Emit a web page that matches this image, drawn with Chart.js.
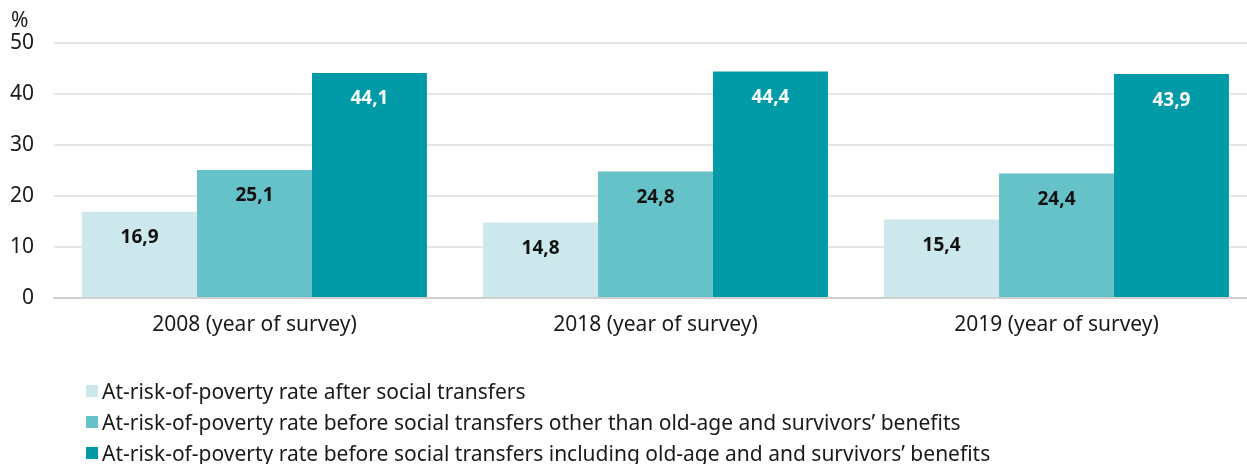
<!DOCTYPE html>
<html>
<head>
<meta charset="utf-8">
<script src="https://cdn.jsdelivr.net/npm/chart.js@4"></script>
<style>
  html, body { margin: 0; padding: 0; background: #fff; overflow: hidden; }
  #wrap { position: relative; width: 1247px; height: 464px; overflow: hidden; font-family: "Noto Sans", sans-serif; }
  #legend { position: absolute; left: 86px; top: 375px; font-size: 21px; color: #1a1a1a; }
  #legend div { display: flex; align-items: center; height: 31px; white-space: nowrap; }
  #legend span.box { display: inline-block; width: 12px; height: 12px; margin-right: 4px; }
</style>
</head>
<body>
<div id="wrap">
  <canvas id="chart" width="1257" height="464"></canvas>
  <div id="legend"></div>
</div>
<script>
// ── data ──
const categories = ['2008 (year of survey)', '2018 (year of survey)', '2019 (year of survey)'];
const seriesNames = [
  'At-risk-of-poverty rate after social transfers',
  'At-risk-of-poverty rate before social transfers other than old-age and survivors\u2019 benefits',
  'At-risk-of-poverty rate before social transfers including old-age and and survivors\u2019 benefits',
];
const afterTransfers = [16.9, 14.8, 15.4];
const beforeOtherThanPensions = [25.1, 24.8, 24.4];
const beforeInclPensions = [44.1, 44.4, 43.9];
const yTicks = [0, 10, 20, 30, 40, 50];
const unitLabel = '%';

const colors = ['#cce8ec', '#66c2c9', '#009ba7'];
const labelColors = ['#111', '#111', '#fff'];
const FONT = '"Noto Sans", sans-serif';

// Value labels inside bars near the top, plus the "%" unit above the axis
const barLabels = {
  id: 'barLabels',
  afterDraw(chart) {
    const ctx = chart.ctx;
    ctx.save();
    ctx.font = `bold 19px ${FONT}`;
    ctx.textAlign = 'center';
    ctx.textBaseline = 'middle';
    chart.data.datasets.forEach((ds, i) => {
      chart.getDatasetMeta(i).data.forEach((bar, j) => {
        ctx.fillStyle = labelColors[i];
        ctx.fillText(ds.data[j].toFixed(1).replace('.', ','), bar.x, bar.y + 26);
      });
    });
    ctx.font = `21px ${FONT}`;
    ctx.textAlign = 'left';
    ctx.fillStyle = '#1a1a1a';
    ctx.fillText(unitLabel, 11, 21);
    ctx.restore();
  },
};

const datasets = [afterTransfers, beforeOtherThanPensions, beforeInclPensions].map((d, i) => ({
  label: seriesNames[i],
  data: d,
  backgroundColor: colors[i],
  borderWidth: 0,
  categoryPercentage: 0.86,
  barPercentage: 1,
}));

new Chart(document.getElementById('chart'), {
  type: 'bar',
  data: { labels: categories, datasets },
  plugins: [barLabels],
  options: {
    responsive: false,
    animation: false,
    layout: { padding: { left: 0, right: 0, top: 43, bottom: 126 } },
    plugins: {
      legend: { display: false },
      tooltip: { enabled: false },
    },
    scales: {
      x: {
        grid: { display: false },
        border: { color: '#cfcfcf', width: 2 },
        ticks: { color: '#1a1a1a', font: { family: FONT, size: 21 }, padding: 6 },
        afterFit: (s) => { s.height = 40; },
      },
      y: {
        min: 0,
        max: 50,
        afterBuildTicks: (s) => { s.ticks = yTicks.map((v) => ({ value: v })); },
        grid: { color: '#e6e6e6', lineWidth: 2, drawTicks: false },
        border: { display: false },
        ticks: { color: '#1a1a1a', font: { family: FONT, size: 21 }, padding: 20 },
        afterFit: (s) => { s.width = 54; },
      },
    },
  },
});

// HTML legend built from the datasets
const legend = document.getElementById('legend');
datasets.forEach((ds) => {
  const row = document.createElement('div');
  const box = document.createElement('span');
  box.className = 'box';
  box.style.background = ds.backgroundColor;
  row.appendChild(box);
  row.appendChild(document.createTextNode(ds.label));
  legend.appendChild(row);
});
</script>
</body>
</html>
